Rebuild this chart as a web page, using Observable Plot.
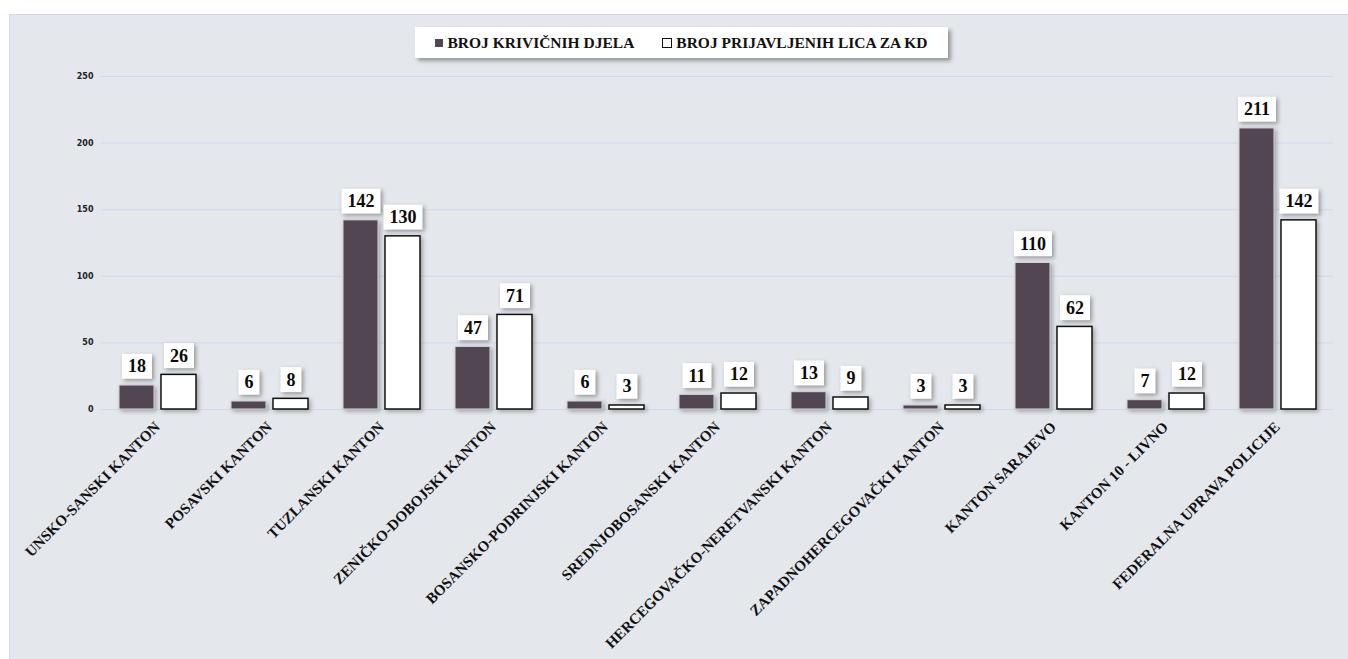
<!DOCTYPE html>
<html><head><meta charset="utf-8">
<script src="https://cdn.jsdelivr.net/npm/d3@7"></script>
<script src="https://cdn.jsdelivr.net/npm/@observablehq/plot@0.6"></script>
<style>
body{margin:0;background:#fff;width:1348px;height:659px;overflow:hidden;position:relative;font-family:"Liberation Serif",serif;}
#panel{position:absolute;left:9px;top:14px;width:1345px;height:650px;background:#e4e7ec;border-left:1px solid #d3d6ec;border-top:1px solid #d3d6ec;}
#legend{position:absolute;left:415px;top:27px;width:533px;height:31px;background:#fff;box-shadow:3px 3px 4px rgba(0,0,0,0.35);display:flex;align-items:center;justify-content:center;gap:28px;font-family:"Liberation Serif",serif;font-weight:bold;font-size:15.5px;color:#111;z-index:2;}
#legend .item{display:flex;align-items:center;gap:4px;}
#legend .sw{display:inline-block;width:8px;height:8px;box-sizing:border-box;}
#chart{position:absolute;left:0;top:60px;}
</style></head>
<body>
<div id="panel"></div>
<div id="legend"></div>
<div id="chart"></div>
<script>
const categories = ["UNSKO-SANSKI KANTON","POSAVSKI KANTON","TUZLANSKI KANTON","ZENIČKO-DOBOJSKI KANTON","BOSANSKO-PODRINJSKI KANTON","SREDNJOBOSANSKI KANTON","HERCEGOVAČKO-NERETVANSKI KANTON","ZAPADNOHERCEGOVAČKI KANTON","KANTON SARAJEVO","KANTON 10 - LIVNO","FEDERALNA UPRAVA POLICIJE"];
const seriesNames = ["BROJ KRIVIČNIH DJELA","BROJ PRIJAVLJENIH LICA ZA KD"];
const krivicnaDjela = [18,6,142,47,6,11,13,3,110,7,211];
const prijavljenaLica = [26,8,130,71,3,12,9,3,62,12,142];
const yTicks = [0,50,100,150,200,250];

const darkColor = "#514652";
const seriesFill = [darkColor, "#ffffff"];
const seriesStroke = ["#d6d6de", "#111111"];
const valueTextColor = "#0a0a0a";

const legend = document.getElementById("legend");
seriesNames.forEach((s,i)=>{
  const it = document.createElement("span"); it.className="item";
  const sw = document.createElement("span"); sw.className="sw";
  sw.style.background = seriesFill[i];
  sw.style.border = i===0 ? "none" : "1px solid #111";
  if(i===1){sw.style.width="10px";sw.style.height="10px";}
  it.appendChild(sw);
  const tx = document.createElement("span"); tx.textContent = s;
  it.appendChild(tx);
  legend.appendChild(it);
});

const data = categories.flatMap((c,i)=>[
  {category:c, series:seriesNames[0], value:krivicnaDjela[i]},
  {category:c, series:seriesNames[1], value:prijavljenaLica[i]}
]);

const svg = Plot.plot({
  width:1348, height:599,
  marginLeft:100, marginRight:14, marginTop:16, marginBottom:250,
  style:{background:"transparent", fontFamily:"Liberation Serif", overflow:"visible"},
  fx:{domain:categories, padding:0, label:null},
  x:{domain:seriesNames, paddingInner:0.17, paddingOuter:0.415, axis:null},
  y:{domain:[0,250], axis:null},
  marks:[
    Plot.gridY(yTicks,{stroke:"#d3d6f0", strokeOpacity:1, strokeWidth:1}),
    Plot.axisY(yTicks,{tickSize:0, tickPadding:8, label:null, fontSize:8, fontWeight:"bold", fontFamily:"DejaVu Sans", fill:"#222"}),
    Plot.axisFx({anchor:"bottom", tickRotate:-45, tickSize:0, tickPadding:15, label:null, fontSize:15, fontWeight:"bold", fill:"#111"}),
    ...seriesNames.map((s,i)=>Plot.barY(data.filter(d=>d.series===s),{fx:"category", x:"series", y:"value", fill:seriesFill[i], stroke:seriesStroke[i], strokeWidth:i===0?1:1.5})),
    Plot.text(data,{fx:"category", x:"series", y:"value", text:"value", dy:-19, lineAnchor:"middle", fontSize:18, fontWeight:"bold", fill:valueTextColor})
  ]
});
document.getElementById("chart").appendChild(svg);

svg.querySelectorAll('g[aria-label="bar"] rect').forEach(r=>{
  r.style.filter = "drop-shadow(2px 2px 2px rgba(0,0,0,0.3))";
});
svg.querySelectorAll('g[fill="' + valueTextColor + '"] text').forEach(t=>{
  const bb = t.getBBox();
  const r = document.createElementNS("http://www.w3.org/2000/svg","rect");
  r.setAttribute("x", bb.x - 6);
  r.setAttribute("y", bb.y + bb.height/2 - 12.5);
  r.setAttribute("width", bb.width + 12);
  r.setAttribute("height", 25);
  r.setAttribute("fill", "#fff");
  if (t.getAttribute("transform")) r.setAttribute("transform", t.getAttribute("transform"));
  r.style.filter = "drop-shadow(2px 2px 2px rgba(0,0,0,0.35))";
  t.parentNode.insertBefore(r, t);
});
</script>
</body></html>
